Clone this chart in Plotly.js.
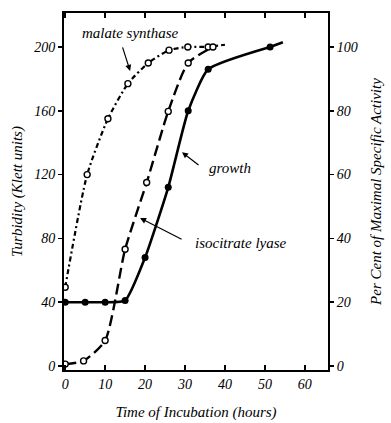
<!DOCTYPE html>
<html>
<head>
<meta charset="utf-8">
<script src="https://cdn.plot.ly/plotly-3.0.1.min.js"></script>
<style>html,body{margin:0;padding:0;background:#fff}#chart{width:391px;height:423px}</style>
</head>
<body>
<div id="chart"></div>
<script>
// Growth (turbidity, Klett units; left axis)
const growthX = [0, 5, 10, 15, 20, 25.8, 30.8, 35.8, 51.3];
const growthY = [40, 40, 40, 41, 68, 112, 160, 186, 200];
const growthTailX = [51.3, 54.5];
const growthTailY = [200, 203];

// Enzymes (per cent of maximal specific activity; right axis)
const malateX = [0, 5.5, 10.7, 15.7, 20.8, 26, 30.7, 35.8];
const malateY = [24.7, 60, 77.5, 88.5, 95, 99, 100, 100];
const malateTailX = [35.8, 40];
const malateTailY = [100, 100.7];

const isoX = [0, 4.6, 10, 15, 20.4, 25.8, 30.8, 37];
const isoY = [0.6, 1.6, 8, 36.6, 57.5, 79.8, 95, 100];

const xTicks = [0, 10, 20, 30, 40, 50, 60];
const yTicks = [0, 40, 80, 120, 160, 200];
const y2Ticks = [0, 20, 40, 60, 80, 100];

const FONT = 'Liberation Serif, DejaVu Serif, serif';

const traces = [
  {x: growthTailX, y: growthTailY, mode: 'lines', yaxis: 'y',
   line: {color: '#000', width: 2.6}, showlegend: false, hoverinfo: 'skip'},
  {x: growthX, y: growthY, mode: 'lines+markers', yaxis: 'y', name: 'growth',
   line: {color: '#000', width: 2.6, shape: 'spline', smoothing: 0.5},
   marker: {color: '#000', size: 7, symbol: 'circle'}},
  {x: malateTailX, y: malateTailY, mode: 'lines', yaxis: 'y2',
   line: {color: '#000', width: 2.2, dash: '5px,3px,2px,3px'}, showlegend: false, hoverinfo: 'skip'},
  {x: malateX, y: malateY, mode: 'lines+markers', yaxis: 'y2', name: 'malate synthase',
   line: {color: '#000', width: 2.2, dash: '5px,3px,2px,3px', shape: 'spline', smoothing: 0.6},
   marker: {color: '#fff', size: 6, symbol: 'circle', line: {color: '#000', width: 1.4}}},
  {x: isoX, y: isoY, mode: 'lines+markers', yaxis: 'y2', name: 'isocitrate lyase',
   line: {color: '#000', width: 2.4, dash: '11px,5px', shape: 'spline', smoothing: 0.6},
   marker: {color: '#fff', size: 6, symbol: 'circle', line: {color: '#000', width: 1.4}}}
];

const tickFont = {family: FONT, size: 14, color: '#000', style: 'italic'};
const titleFont = {family: FONT, size: 15, color: '#000', style: 'italic'};
const annFont = {family: FONT, size: 15, color: '#000', style: 'italic'};

const layout = {
  width: 391, height: 423,
  margin: {l: 64, r: 63, t: 13, b: 53},
  paper_bgcolor: '#fff', plot_bgcolor: '#fff',
  showlegend: false,
  xaxis: {
    range: [-0.3, 65.8], tickvals: xTicks, ticktext: xTicks.map(String),
    showline: true, linecolor: '#000', linewidth: 2, mirror: 'ticks',
    ticks: 'inside', ticklen: 5, tickwidth: 1.5, tickcolor: '#000',
    showgrid: false, zeroline: false, tickfont: tickFont,
    title: {text: 'Time of Incubation (hours)', font: titleFont, standoff: 16}
  },
  yaxis: {
    range: [-2.5, 221.3], tickvals: yTicks, ticktext: yTicks.map(String),
    showline: true, linecolor: '#000', linewidth: 2,
    ticks: 'outside', ticklen: 4, tickwidth: 1.5, tickcolor: '#000',
    showgrid: false, zeroline: false, tickfont: tickFont,
    title: {text: 'Turbidity (Klett units)', font: titleFont, standoff: 8}
  },
  yaxis2: {
    overlaying: 'y', side: 'right',
    range: [-1.25, 110.65], tickvals: y2Ticks, ticktext: y2Ticks.map(String),
    showline: true, linecolor: '#000', linewidth: 2,
    ticks: 'outside', ticklen: 4, tickwidth: 1.5, tickcolor: '#000',
    showgrid: false, zeroline: false, tickfont: tickFont,
    title: {text: 'Per Cent of Maximal Specific Activity', font: titleFont, standoff: 14}
  },
  annotations: [
    {xref: 'x', yref: 'y', x: 16.25, y: 208.8, text: 'malate synthase', showarrow: false, font: annFont},
    {xref: 'x', yref: 'y', x: 16.25, y: 185, text: '', showarrow: true, ax: -8, ay: -25,
     arrowhead: 2, arrowsize: 1, arrowwidth: 1.2, arrowcolor: '#000'},
    {xref: 'x', yref: 'y', x: 41.3, y: 124, text: 'growth', showarrow: false, font: annFont},
    {xref: 'x', yref: 'y', x: 29.25, y: 134, text: '', showarrow: true, ax: 18, ay: 14,
     arrowhead: 2, arrowsize: 1, arrowwidth: 1.2, arrowcolor: '#000'},
    {xref: 'x', yref: 'y', x: 44, y: 77, text: 'isocitrate lyase', showarrow: false, font: annFont},
    {xref: 'x', yref: 'y', x: 18.75, y: 92.8, text: '', showarrow: true, ax: 43, ay: 22,
     arrowhead: 2, arrowsize: 1, arrowwidth: 1.2, arrowcolor: '#000'}
  ]
};

Plotly.newPlot('chart', traces, layout, {staticPlot: true, displayModeBar: false});
</script>
</body>
</html>
